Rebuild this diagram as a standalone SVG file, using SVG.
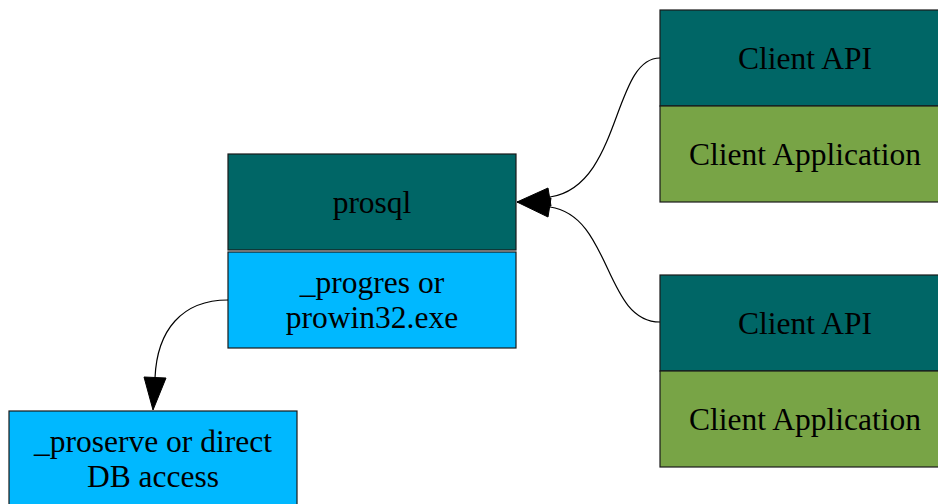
<svg xmlns="http://www.w3.org/2000/svg" width="938" height="504" viewBox="0 0 938 504">
<style>
.box{stroke:#1a1a1a;stroke-width:1.2}
.teal{fill:#006666}
.green{fill:#78a446}
.blue{fill:#00b8ff}
text{font-family:"Liberation Serif","Times New Roman",serif;font-size:31.5px;fill:#000;text-anchor:middle}
.edge{fill:none;stroke:#000;stroke-width:1.2}
.head{fill:#000;stroke:#000;stroke-width:1}
</style>
<rect width="938" height="504" fill="#fff"/>
<g id="prosql">
<rect class="box teal" x="228" y="154" width="288" height="96"/>
<text x="372" y="213">prosql</text>
</g>
<g id="progres">
<rect class="box blue" x="228" y="252" width="288" height="96"/>
<text x="372" y="293">_progres or</text>
<text x="372" y="328">prowin32.exe</text>
</g>
<g id="proserve">
<rect class="box blue" x="9" y="411" width="288" height="96"/>
<text x="153" y="452">_proserve or direct</text>
<text x="153" y="487">DB access</text>
</g>
<g id="client1">
<rect class="box teal" x="660" y="10" width="290" height="96"/>
<text x="805" y="69">Client API</text>
<rect class="box green" x="660" y="106" width="290" height="96"/>
<text x="805" y="165">Client Application</text>
</g>
<g id="client2">
<rect class="box teal" x="660" y="275" width="290" height="96"/>
<text x="805" y="334">Client API</text>
<rect class="box green" x="660" y="371" width="290" height="96"/>
<text x="805" y="430">Client Application</text>
</g>
<g id="connectors">
<path class="edge" d="M660,58 C612,58 622,186 550,197"/>
<polygon class="head" points="517,202 548,188 551,206"/>
<path class="edge" d="M660,322 C604,322 612,216 550,207"/>
<polygon class="head" points="517,202 551,198 548,217"/>
<path class="edge" d="M228,300 C182,300 157,330 155,378"/>
<polygon class="head" points="153,410 144,377 166,378"/>
</g>
</svg>
